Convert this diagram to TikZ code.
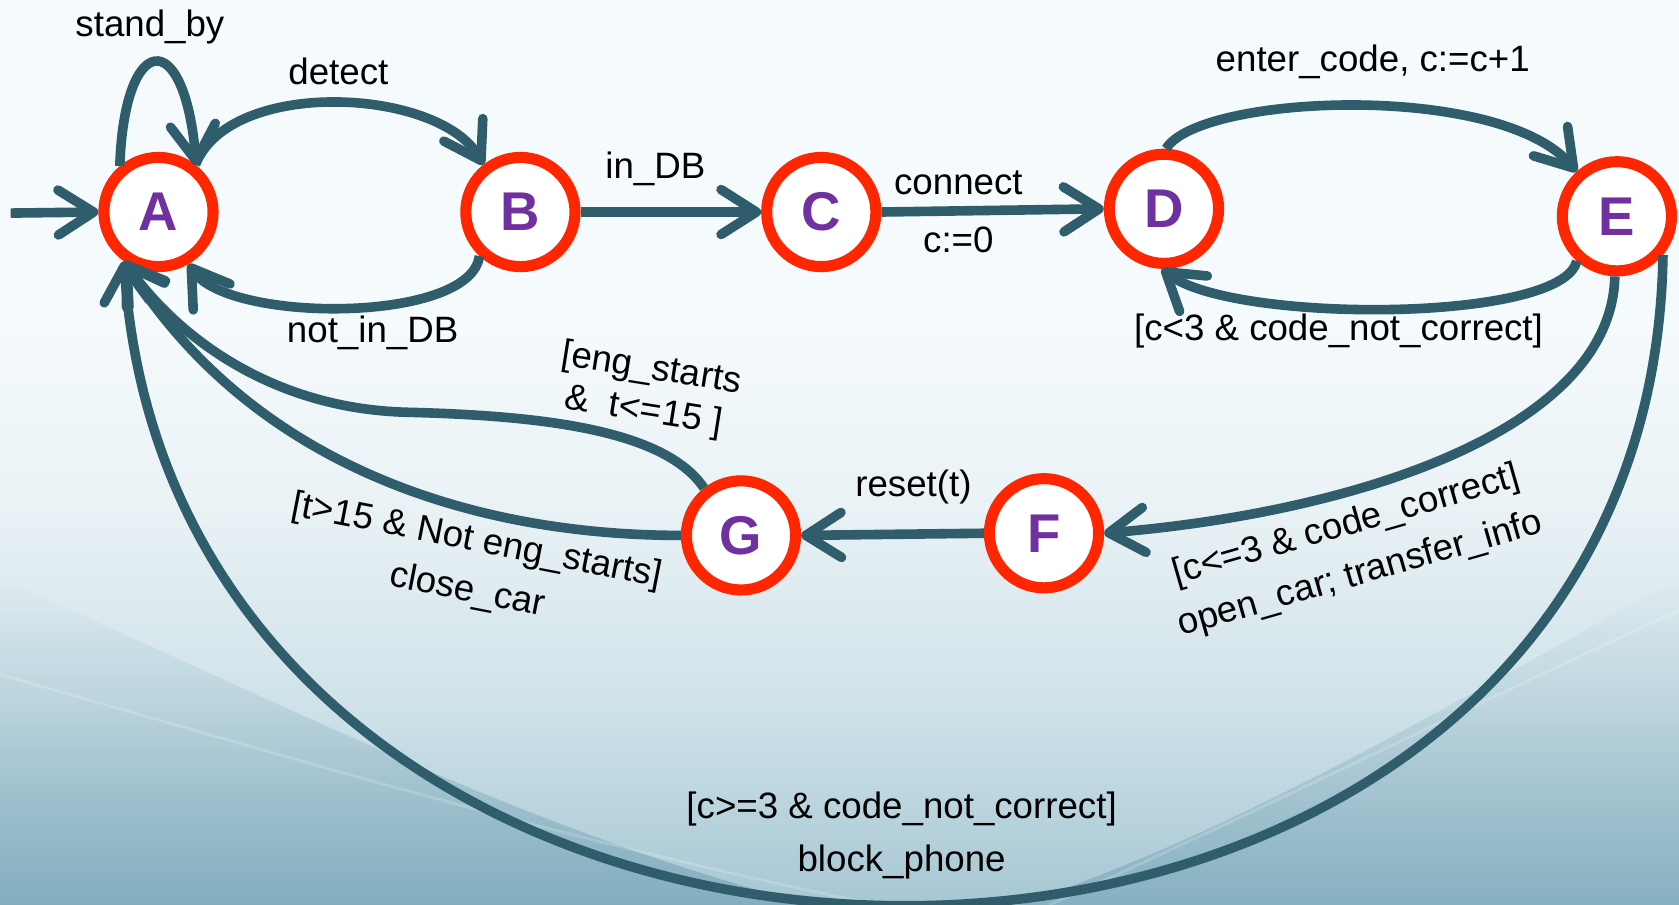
\documentclass[tikz,border=0pt]{standalone}
\usepackage{fontspec}
\setmainfont{Liberation Sans}
\usetikzlibrary{arrows.meta,fadings}
\definecolor{edgecol}{HTML}{2F5D6B}
\definecolor{stred}{HTML}{FF2600}
\definecolor{stpurple}{HTML}{7030A0}
\definecolor{bgtop}{HTML}{F5FAFC}
\definecolor{bgmid}{HTML}{E9F2F5}
\definecolor{bglow}{HTML}{CFE2E9}
\definecolor{bgbot}{HTML}{A6C7D3}
\definecolor{wavecol}{HTML}{5B90A6}
\pgfdeclareverticalshading{bgshade}{100bp}{color(0bp)=(bgbot); color(25bp)=(bgbot); color(36bp)=(bglow); color(47bp)=(bgmid); color(57bp)=(bgtop); color(100bp)=(bgtop)}
\begin{document}
\begin{tikzpicture}[x=0.02cm, y=-0.02cm,
  state/.style={circle, draw=stred, line width=5.9pt, fill=white, minimum size=2.04cm, inner sep=0pt, outer sep=2.95pt, text=stpurple, font=\fontsize{29}{29}\selectfont\bfseries},
  trans/.style={draw=edgecol, line width=5.1pt, -{Straight Barb[length=0.66cm, width=0.84cm, round]}},
  lbl/.style={font=\fontsize{19.5}{27}\selectfont, inner sep=0pt, align=center, text=black}]
\useasboundingbox (0,0) rectangle (1568,845);
\shade[shading=bgshade] (0,0) rectangle (1568,845);
\fill[wavecol, opacity=0.45, path fading=north] (0,540) .. controls (250,650) and (500,780) .. (760,845) -- (0,845) -- cycle;
\fill[wavecol, opacity=0.40, path fading=north] (1568,540) .. controls (1350,660) and (1150,780) .. (950,845) -- (1568,845) -- cycle;
\draw[white, opacity=0.18, line width=1.5pt] (0,630) .. controls (250,700) and (500,780) .. (820,845);
\draw[white, opacity=0.18, line width=1.5pt] (1568,570) .. controls (1350,670) and (1150,770) .. (980,845);

\node[state] (A) at (148,198) {A};
\node[state] (B) at (486,198) {B};
\node[state] (C) at (767,198) {C};
\node[state] (D) at (1087,195) {D};
\node[state] (E) at (1510,202) {E};
\node[state] (F) at (975,498) {F};
\node[state] (G) at (692,500) {G};

\coordinate (in) at (10,199);
\draw[trans] (in) -- (A.west);

\draw[trans] (A.130) .. controls (116,30) and (172,22) .. (A.51);
\node[lbl] (lsb) at (140,25) {stand\_by};

\draw[trans] (A.52) .. controls (215,72) and (410,82) .. (B.128);
\node[lbl] (ldet) at (316,67) {detect};

\draw[trans] (B.227) .. controls (440,302) and (215,302) .. (A.300);
\node[lbl] (lnot) at (348,311) {not\_in\_DB};

\draw[trans] (B.east) -- (C.west);
\node[lbl] (lin) at (612,158) {in\_DB};

\draw[trans] (C.east) -- (D.west);
\node[lbl] (lcon) at (895,171) {connect};
\node[lbl] (lc0) at (895,224) {c:=0};

\draw[trans] (D.88) .. controls (1120,88) and (1400,76) .. (E.132);
\node[lbl] (lent) at (1282,58) {enter\_code, c:=c+1};

\draw[trans] (E.228) .. controls (1460,302) and (1150,302) .. (D.268);
\node[lbl] (lnc) at (1250,309) {[c<3 \& code\_not\_correct]};

\draw[trans] (E.268) .. controls (1505,400) and (1270,478) .. (F.east);
\node[lbl, rotate=16] (lok) at (1264,514) {[c<=3 \& code\_correct]\\open\_car; transfer\_info};

\draw[trans] (E.320) .. controls (1540,1046) and (170,1046) .. (A.235);
\node[lbl] (lblk) at (842,780) {[c>=3 \& code\_not\_correct]\\[1pt]block\_phone};

\draw[trans] (F.west) -- (G.east);
\node[lbl] (lrst) at (853,455) {reset(t)};

\draw[trans] (G.128) .. controls (620,400) and (500,388) .. (380,385) .. controls (260,382) and (170,320) .. (A.235);
\node[lbl, rotate=-9, align=left, font=\fontsize{19.5}{23}\selectfont] (leng) at (605,365) {[eng\_starts\\\ \&\ \ t<=15 ]};

\draw[trans] (G.west) .. controls (450,500) and (240,440) .. (A.235);
\node[lbl, rotate=-11] (lclose) at (441,529) {[t>15 \& Not eng\_starts]\\close\_car};
\end{tikzpicture}
\end{document}
